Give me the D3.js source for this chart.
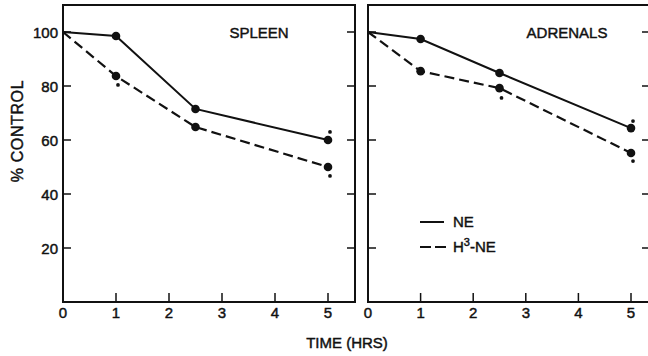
<!DOCTYPE html>
<html>
<head>
<meta charset="utf-8">
<script src="https://cdn.jsdelivr.net/npm/d3@7"></script>
<style>
  body { margin: 0; background: #fff; }
  svg { display: block; font-family: "Liberation Sans", "DejaVu Sans", sans-serif; }
  text { fill: #111; stroke: #111; stroke-width: 0.45; }
</style>
</head>
<body>
<svg id="chart" width="648" height="356"></svg>
<script>
// time points (hrs)
const times = [0, 1, 2.5, 5];

// % control values
const spleenNE = [100, 98.5, 71.5, 60];
const spleenH3 = [100, 83.7, 64.8, 50];
const adrenalNE = [100, 97.4, 84.8, 64.4];
const adrenalH3 = [100, 85.5, 79.2, 55.2];

// significance dots [time, value]
const spleenSig = [[1, 80.4], [5, 63], [5, 46.7]];
const adrenalSig = [[2.5, 75.6], [5, 67], [5, 52.2]];

const xTicks = [1, 2, 3, 4, 5];
const yTicks = [20, 40, 60, 80, 100];

// left = x of 0, five = x of 5 hrs, right = frame edge
const panels = [
  { title: "SPLEEN", ne: spleenNE, h3: spleenH3, sig: spleenSig, left: 63, five: 328, right: 355, tx: 259 },
  { title: "ADRENALS", ne: adrenalNE, h3: adrenalH3, sig: adrenalSig, left: 368, five: 631, right: 650, tx: 567 }
];

const svg = d3.select("#chart");
const plotTop = 5, plotBottom = 302;

const y = d3.scaleLinear().domain([0, 110]).range([plotBottom, plotTop]);

panels.forEach(function (p, i) {
  const x = d3.scaleLinear().domain([0, 5]).range([p.left, p.five]);
  const g = svg.append("g");

  // frame
  g.append("rect")
    .attr("x", p.left).attr("y", plotTop)
    .attr("width", p.right - p.left).attr("height", plotBottom - plotTop)
    .attr("fill", "none").attr("stroke", "#111").attr("stroke-width", 2);

  // y ticks on both sides, inward
  g.selectAll(".ytl").data(yTicks).enter().append("line")
    .attr("x1", p.left).attr("x2", p.left + 8)
    .attr("y1", d => y(d)).attr("y2", d => y(d))
    .attr("stroke", "#111").attr("stroke-width", 1.5);
  g.selectAll(".ytr").data(yTicks).enter().append("line")
    .attr("x1", p.right).attr("x2", p.right - 8)
    .attr("y1", d => y(d)).attr("y2", d => y(d))
    .attr("stroke", "#111").attr("stroke-width", 1.5);

  // x ticks, inward
  g.selectAll(".xt").data(xTicks).enter().append("line")
    .attr("x1", d => x(d)).attr("x2", d => x(d))
    .attr("y1", plotBottom).attr("y2", plotBottom - 9)
    .attr("stroke", "#111").attr("stroke-width", 1.5);

  // x tick labels
  g.selectAll(".xl").data([0].concat(xTicks)).enter().append("text")
    .attr("x", d => x(d)).attr("y", 318)
    .attr("text-anchor", "middle")
    .attr("font-size", 15)
    .text(d => d);

  // y tick labels only on the left panel
  if (i === 0) {
    g.selectAll(".yl").data(yTicks).enter().append("text")
      .attr("x", p.left - 5).attr("y", d => y(d) + 5.5)
      .attr("text-anchor", "end")
      .attr("font-size", 15)
      .text(d => d);
  }

  const line = d3.line().x((d, j) => x(times[j])).y(d => y(d));

  g.append("path").datum(p.ne)
    .attr("d", line).attr("fill", "none")
    .attr("stroke", "#111").attr("stroke-width", 2);
  g.append("path").datum(p.h3)
    .attr("d", line).attr("fill", "none")
    .attr("stroke", "#111").attr("stroke-width", 2.2)
    .attr("stroke-dasharray", "10,5");

  // markers (not at time 0)
  [p.ne, p.h3].forEach(function (s) {
    g.selectAll(null).data(s.slice(1)).enter().append("circle")
      .attr("cx", (d, j) => x(times[j + 1])).attr("cy", d => y(d))
      .attr("r", 4.3).attr("fill", "#111");
  });

  g.selectAll(".sig").data(p.sig).enter().append("circle")
    .attr("cx", d => x(d[0]) + 2).attr("cy", d => y(d[1]))
    .attr("r", 1.9).attr("fill", "#111");

  g.append("text")
    .attr("x", p.tx).attr("y", 38)
    .attr("text-anchor", "middle")
    .attr("font-size", 15)
    .text(p.title);
});

// legend
const leg = svg.append("g");
leg.append("line").attr("x1", 420).attr("x2", 444).attr("y1", 222).attr("y2", 222)
  .attr("stroke", "#111").attr("stroke-width", 2);
leg.append("line").attr("x1", 420).attr("x2", 446).attr("y1", 247).attr("y2", 247)
  .attr("stroke", "#111").attr("stroke-width", 2.2).attr("stroke-dasharray", "11,4");
leg.append("text").attr("x", 453).attr("y", 227).attr("font-size", 15).text("NE");
const t2 = leg.append("text").attr("x", 453).attr("y", 252).attr("font-size", 15);
t2.append("tspan").text("H");
t2.append("tspan").attr("dy", -6).attr("font-size", 11).text("3");
t2.append("tspan").attr("dy", 6).text("-NE");

// axis titles
svg.append("text")
  .attr("transform", "translate(23,131) rotate(-90)")
  .attr("text-anchor", "middle")
  .attr("font-size", 16)
  .attr("letter-spacing", 0.6)
  .text("% CONTROL");

svg.append("text")
  .attr("x", 347).attr("y", 348)
  .attr("text-anchor", "middle")
  .attr("font-size", 15)
  .text("TIME (HRS)");
</script>
</body>
</html>
